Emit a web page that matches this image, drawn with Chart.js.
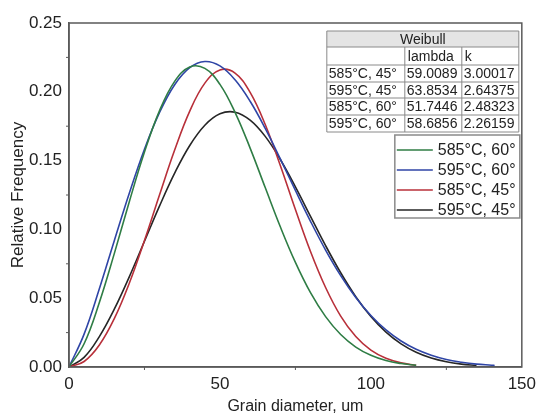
<!doctype html>
<html lang="en">
  <head>
    <meta charset="utf-8">
    <title>Weibull grain size distribution</title>
    <style>
      * { margin: 0; padding: 0; }
      body { background: #fff; }
      .chartBox { width: 538px; height: 415px; }
    </style>
  </head>
  <body>
    <div class="chartBox">
      <canvas id="myChart" width="538" height="415"></canvas>
    </div>
    <script src="https://cdn.jsdelivr.net/npm/chart.js"></script>
    <script>
// data
const diamShort = [0, 5, 10, 15, 20, 25, 30, 35, 40, 45, 50, 55, 60, 65, 70, 75, 80, 85, 90, 95, 100, 105, 110, 115];
const diam595_45 = [0, 5, 10, 15, 20, 25, 30, 35, 40, 45, 50, 55, 60, 65, 70, 75, 80, 85, 90, 95, 100, 105, 110, 115, 120, 125, 130, 135];
const diam595_60 = [0, 5, 10, 15, 20, 25, 30, 35, 40, 45, 50, 55, 60, 65, 70, 75, 80, 85, 90, 95, 100, 105, 110, 115, 120, 125, 130, 135, 140, 141];

const freq585_60 = [0, 0.0169, 0.0465, 0.0824, 0.1203, 0.1562, 0.1863, 0.2076, 0.2180, 0.2170, 0.2054, 0.1851, 0.1591, 0.1304, 0.1019, 0.0760, 0.0540, 0.0366, 0.0236, 0.0145, 0.0085, 0.0047, 0.0025, 0.0012];
const freq595_60 = [0, 0.0239, 0.0565, 0.0918, 0.1265, 0.1583, 0.1850, 0.2051, 0.2175, 0.2220, 0.2188, 0.2087, 0.1931, 0.1734, 0.1512, 0.1283, 0.1059, 0.0850, 0.0664, 0.0505, 0.0374, 0.0269, 0.0189, 0.0129, 0.0086, 0.0055, 0.0035, 0.0021, 0.0013, 0.0011];
const freq585_45 = [0, 0.0040, 0.0158, 0.0351, 0.0610, 0.0919, 0.1252, 0.1577, 0.1860, 0.2063, 0.2159, 0.2136, 0.1996, 0.1762, 0.1465, 0.1145, 0.0840, 0.0578, 0.0370, 0.0221, 0.0122, 0.0063, 0.0030, 0.0013];
const freq595_45 = [0, 0.0070, 0.0219, 0.0420, 0.0657, 0.0914, 0.1171, 0.1409, 0.1610, 0.1757, 0.1840, 0.1852, 0.1794, 0.1676, 0.1508, 0.1309, 0.1095, 0.0882, 0.0685, 0.0511, 0.0367, 0.0253, 0.0168, 0.0107, 0.0065, 0.0038, 0.0021, 0.0011];

const seriesLabels = ['585°C, 60°', '595°C, 60°', '585°C, 45°', '595°C, 45°'];
const seriesColours = ['#2f7d45', '#2f45a6', '#b8303a', '#262626'];

// Weibull fit table
const tableRows = ['585°C, 45°', '595°C, 45°', '585°C, 60°', '595°C, 60°'];
const tableLambda = ['59.0089', '63.8534', '51.7446', '58.6856'];
const tableK = ['3.00017', '2.64375', '2.48323', '2.26159'];

const xTicks = [0, 50, 100, 150];
const yTicks = [0, 0.05, 0.10, 0.15, 0.20, 0.25];

const FONT = 'Liberation Sans, Arial, sans-serif';
const AXIS = '#5a5a5a';

const toPoints = (xs, ys) => xs.map((x, i) => ({ x: x, y: ys[i] }));
const xsets = [diamShort, diam595_60, diamShort, diam595_45];
const ysets = [freq585_60, freq595_60, freq585_45, freq595_45];

const data = {
  datasets: seriesLabels.map((label, i) => ({
    label: label,
    data: toPoints(xsets[i], ysets[i]),
    borderColor: seriesColours[i],
    backgroundColor: seriesColours[i],
    borderWidth: 1.6,
    pointRadius: 0,
    tension: 0.4,
    fill: false
  }))
};

// frame + minor ticks
const frame = {
  id: 'frame',
  afterDraw(chart) {
    const { ctx, chartArea: { top, bottom, left, right }, scales: { x, y } } = chart;
    ctx.save();
    ctx.strokeStyle = AXIS;
    ctx.lineWidth = 1.5;
    ctx.strokeRect(left, top, right - left, bottom - top);
    ctx.lineWidth = 1;
    ctx.beginPath();
    [25, 75, 125].forEach(v => {
      const px = x.getPixelForValue(v);
      ctx.moveTo(px, bottom);
      ctx.lineTo(px, bottom + 3);
    });
    [0.025, 0.075, 0.125, 0.175, 0.225].forEach(v => {
      const py = y.getPixelForValue(v);
      ctx.moveTo(left, py);
      ctx.lineTo(left - 3, py);
    });
    ctx.stroke();
    ctx.restore();
  }
};

// parameter table in the top right corner
const weibullTable = {
  id: 'weibullTable',
  afterDraw(chart) {
    const { ctx, chartArea: { top, right } } = chart;
    const x0 = right - 195, x1 = right - 117, x2 = right - 60, x3 = right - 3;
    const rowTops = [top + 8, top + 24, top + 42, top + 59, top + 75, top + 92, top + 109];
    ctx.save();
    ctx.fillStyle = '#e4e4e4';
    ctx.fillRect(x0, rowTops[0], x3 - x0, rowTops[1] - rowTops[0]);
    ctx.strokeStyle = '#8a8a8a';
    ctx.lineWidth = 1;
    ctx.beginPath();
    rowTops.forEach(ry => { ctx.moveTo(x0, ry); ctx.lineTo(x3, ry); });
    ctx.moveTo(x0, rowTops[0]); ctx.lineTo(x0, rowTops[6]);
    ctx.moveTo(x3, rowTops[0]); ctx.lineTo(x3, rowTops[6]);
    ctx.moveTo(x1, rowTops[1]); ctx.lineTo(x1, rowTops[6]);
    ctx.moveTo(x2, rowTops[1]); ctx.lineTo(x2, rowTops[6]);
    ctx.stroke();

    ctx.fillStyle = '#222';
    ctx.font = '14px ' + FONT;
    ctx.textBaseline = 'middle';
    ctx.textAlign = 'center';
    ctx.fillText('Weibull', (x0 + x3) / 2, (rowTops[0] + rowTops[1]) / 2 + 1);
    ctx.textAlign = 'left';
    ctx.fillText('lambda', x1 + 3, (rowTops[1] + rowTops[2]) / 2 + 1);
    ctx.fillText('k', x2 + 3, (rowTops[1] + rowTops[2]) / 2 + 1);
    tableRows.forEach((name, i) => {
      const cy = (rowTops[i + 2] + rowTops[i + 3]) / 2 + 1;
      ctx.fillText(name, x0 + 2, cy);
      ctx.fillText(tableLambda[i], x1 + 2, cy);
      ctx.fillText(tableK[i], x2 + 2, cy);
    });
    ctx.restore();
  }
};

// boxed legend under the table
const boxLegend = {
  id: 'boxLegend',
  afterDraw(chart) {
    const { ctx, chartArea: { top, right } } = chart;
    const bx = right - 127, by = top + 112, bw = 125, bh = 83;
    ctx.save();
    ctx.fillStyle = '#fff';
    ctx.fillRect(bx, by, bw, bh);
    ctx.strokeStyle = '#8a8a8a';
    ctx.lineWidth = 1.5;
    ctx.strokeRect(bx, by, bw, bh);
    ctx.font = '16px ' + FONT;
    ctx.textBaseline = 'middle';
    ctx.textAlign = 'left';
    chart.data.datasets.forEach((ds, i) => {
      const cy = by + 15 + i * 20;
      ctx.strokeStyle = ds.borderColor;
      ctx.lineWidth = 1.6;
      ctx.beginPath();
      ctx.moveTo(bx + 2, cy);
      ctx.lineTo(bx + 38, cy);
      ctx.stroke();
      ctx.fillStyle = '#222';
      ctx.fillText(ds.label, bx + 43, cy + 1);
    });
    ctx.restore();
  }
};

const config = {
  type: 'line',
  data,
  options: {
    animation: false,
    responsive: false,
    layout: { padding: { top: 23, right: 14, left: 0, bottom: 0 } },
    scales: {
      x: {
        type: 'linear',
        min: 0,
        max: 150,
        afterBuildTicks: (scale) => { scale.ticks = xTicks.map(v => ({ value: v })); },
        afterFit: (scale) => { scale.height = 48; },
        grid: { display: false, drawTicks: true, tickLength: 5, tickColor: AXIS },
        border: { display: true, color: AXIS, width: 1.5 },
        ticks: { color: '#222', font: { family: FONT, size: 17 }, padding: 2, maxRotation: 0 },
        title: { display: true, text: 'Grain diameter, um', color: '#222', font: { family: FONT, size: 16, lineHeight: 1 }, padding: { top: 0, bottom: 0 } }
      },
      y: {
        type: 'linear',
        min: 0,
        max: 0.25,
        afterBuildTicks: (scale) => { scale.ticks = yTicks.map(v => ({ value: v })); },
        afterFit: (scale) => { scale.width = 69; },
        grid: { display: false, drawTicks: true, tickLength: 5, tickColor: AXIS },
        border: { display: true, color: AXIS, width: 1.5 },
        ticks: { color: '#222', font: { family: FONT, size: 17 }, padding: 2, callback: (v) => v.toFixed(2) },
        title: { display: true, text: 'Relative Frequency', color: '#222', font: { family: FONT, size: 17 }, padding: { top: 8, bottom: 0 } }
      }
    },
    plugins: {
      legend: { display: false },
      tooltip: { enabled: false }
    }
  },
  plugins: [frame, weibullTable, boxLegend]
};

const myChart = new Chart(document.getElementById('myChart'), config);
    </script>
  </body>
</html>
